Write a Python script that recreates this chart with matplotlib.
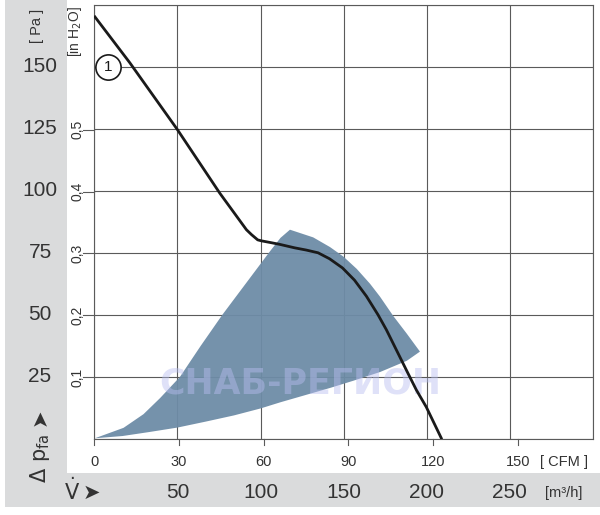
import matplotlib
matplotlib.use("Agg")
import matplotlib.pyplot as plt
from matplotlib import font_manager
from matplotlib.patches import Rectangle

# ---- data (x in m3/h, y in Pa) ----
curve_x = [0.4, 21.4, 50, 75.5, 91.5, 94.6, 98.3, 100.6, 105.4, 111.5, 120.5, 127.5, 134.6, 141.5, 149.3,
           156.5, 163.7, 170.7, 175.7, 181.7, 187.7, 193.7, 199.7, 208.7]
curve_y = [170, 151.5, 124.6, 99, 84.3, 82.3, 80.2, 79.8, 79.2, 78.4, 77.0, 76.1, 75.0, 72.6, 68.9,
           64.0, 57.5, 50.0, 44.0, 35.9, 27.8, 19.8, 12.9, 0.4]

area_x = [0.4, 17.6, 29.6, 39.6, 51.5, 64, 77, 91, 105, 112, 117.7,
          131.7, 141.8, 149.8, 157.9, 165.9, 171.9, 179.9, 187.9, 195.9,
          188, 172, 156, 142, 126, 112, 100, 84, 67, 50, 33, 17]
area_y = [0.3, 4.5, 10.0, 16.5, 25.0, 37.5, 50.0, 62.5, 75.0, 81.0, 84.3,
          81.2, 77.3, 73.5, 68.5, 62.5, 57.3, 49.5, 42.5, 35.2,
          31.5, 27.0, 23.5, 20.6, 17.5, 14.8, 12.3, 9.5, 7.0, 4.6, 2.8, 1.2]

pa_ticks = [25, 50, 75, 100, 125, 150]
inh2o_ticks = [0.1, 0.2, 0.3, 0.4, 0.5]
inh2o_labels = ["0,1", "0,2", "0,3", "0,4", "0,5"]
cfm_ticks = [0, 30, 60, 90, 120, 150]
m3h_ticks = [50, 100, 150, 200, 250]

names = {f.name for f in font_manager.fontManager.ttflist}
cond = "Liberation Sans Narrow" if "Liberation Sans Narrow" in names else "Liberation Sans"
reg = "Liberation Sans"

W, H = 600, 515
fig = plt.figure(figsize=(6.0, 5.15), dpi=100)
fig.patch.set_facecolor("white")

gray = "#dadbdc"
fig.patches.append(Rectangle((5 / W, 1 - 507 / H), (67 - 5) / W, 507 / H, transform=fig.transFigure,
                             facecolor=gray, edgecolor="none", zorder=0))
fig.patches.append(Rectangle((5 / W, 1 - 507 / H), (600 - 5) / W, (507 - 473) / H, transform=fig.transFigure,
                             facecolor=gray, edgecolor="none", zorder=0))

x0, x1 = 94.3, 593
y0, y1 = 439, 4.5
ax = fig.add_axes([x0 / W, 1 - y0 / H, (x1 - x0) / W, (y0 - y1) / H])
ax.set_xlim(0, 300)
ax.set_ylim(0, 175)
ax.set_facecolor("none")
gc = "#5a5a5a"
ax.set_xticks([0, 50, 100, 150, 200, 250, 300])
ax.set_yticks([0, 25, 50, 75, 100, 125, 150, 175])
ax.grid(True, color=gc, linewidth=0.8)
ax.tick_params(length=0, labelbottom=False, labelleft=False)
for s in ax.spines.values():
    s.set_color(gc)
    s.set_linewidth(0.8)

ax.fill(area_x, area_y, color="#6e8ca7", alpha=0.95, lw=0, zorder=2)

# watermark text
ax.text(124, 22.5, "СНАБ-РЕГИОН", fontsize=25, fontweight="bold", color="#b9bef0", alpha=0.45,
        ha="center", va="center", zorder=3, family="DejaVu Sans")

ax.plot(curve_x, curve_y, color="#1a1a1a", lw=2.0, zorder=4, solid_joinstyle="round")

# curve label
ax.scatter([8.5], [150], s=330, facecolor="white", edgecolor="#1a1a1a", linewidth=1.2, zorder=5)
ax.text(8.5, 150, "1", ha="center", va="center", fontsize=11, family=reg, color="#1a1a1a", zorder=6)

tc = "#333333"
for v in pa_ticks:
    yp = y0 - v / 175 * (y0 - y1)
    fig.text(40 / W, 1 - yp / H, str(v), ha="center", va="center", fontsize=15, family=cond, color=tc)
fig.text(37 / W, 1 - 26 / H, "[ Pa ]", rotation=90, ha="center", va="center", fontsize=10.5, family=cond, color=tc)

for v, lab in zip(inh2o_ticks, inh2o_labels):
    pa = v * 249.089
    yp = y0 - pa / 175 * (y0 - y1)
    fig.lines.append(plt.Line2D([83 / W, x0 / W], [1 - yp / H, 1 - yp / H], transform=fig.transFigure,
                                color=gc, lw=0.8))
    fig.text(77 / W, 1 - yp / H, lab, rotation=90, ha="center", va="center", fontsize=10, family=cond, color=tc)
fig.text(75 / W, 1 - 32 / H, r"[in H$_2$O]", rotation=90, ha="center", va="center", fontsize=10,
         family=cond, color=tc)

for v in cfm_ticks:
    xp = x0 + v * 1.699 / 300 * (x1 - x0)
    fig.lines.append(plt.Line2D([xp / W, xp / W], [1 - y0 / H, 1 - 445 / H], transform=fig.transFigure,
                                color=gc, lw=0.8))
    fig.text(xp / W, 1 - 462 / H, str(v), ha="center", va="center", fontsize=10.5, family=reg, color=tc)
fig.text(564 / W, 1 - 462 / H, "[ CFM ]", ha="center", va="center", fontsize=10.5, family=cond, color=tc)

for v in m3h_ticks:
    xp = x0 + v / 300 * (x1 - x0)
    fig.text(xp / W, 1 - 493 / H, str(v), ha="center", va="center", fontsize=15, family=cond, color=tc)
fig.text(564 / W, 1 - 493 / H, "[m³/h]", ha="center", va="center", fontsize=10.5, family=cond, color=tc)

fig.text(72 / W, 1 - 491 / H, r"$\dot{\mathrm{V}}$", ha="center", va="center", fontsize=15, color=tc)
fig.text(91 / W, 1 - 493 / H, "➤", ha="center", va="center", fontsize=15, family="DejaVu Sans", color=tc)

fig.text(40 / W, 1 - 458 / H, r"$\Delta\ \mathrm{p}_{\mathrm{fa}}$", rotation=90, ha="center", va="center",
         fontsize=15, color=tc)
fig.text(40 / W, 1 - 417 / H, "➤", rotation=90, ha="center", va="center", fontsize=15,
         family="DejaVu Sans", color=tc)

fig.savefig("out.png", dpi=100)
